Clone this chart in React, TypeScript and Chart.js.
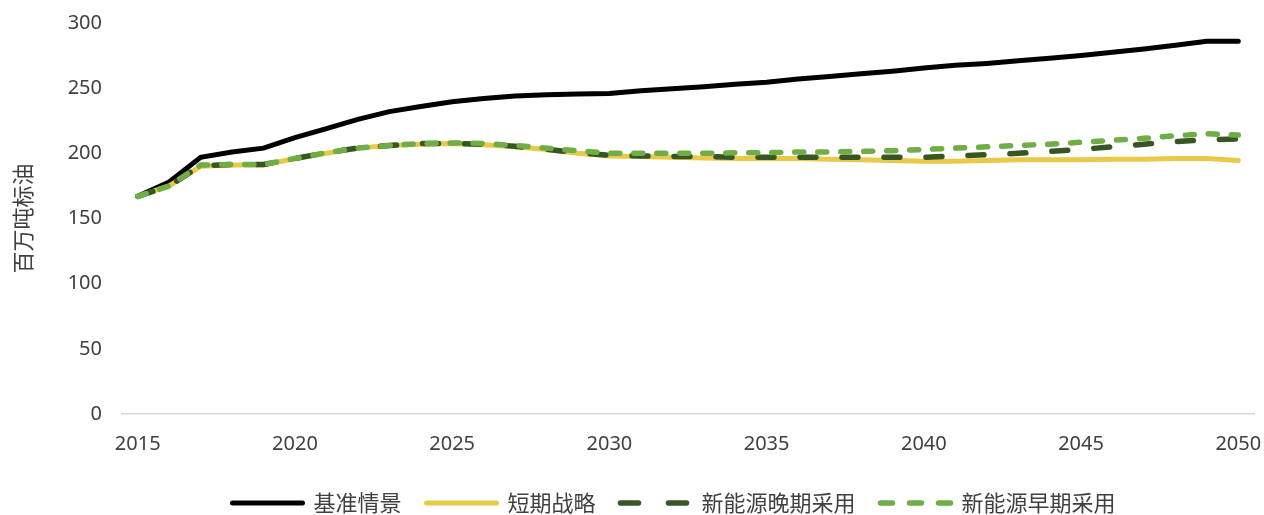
import React, { useEffect, useRef } from "react";
import { Chart, registerables } from "chart.js";

Chart.register(...registerables);

const years: string[] = [
  "2015","2016","2017","2018","2019","2020","2021","2022","2023","2024",
  "2025","2026","2027","2028","2029","2030","2031","2032","2033","2034",
  "2035","2036","2037","2038","2039","2040","2041","2042","2043","2044",
  "2045","2046","2047","2048","2049","2050",
];

const seriesNames: string[] = ["基准情景", "短期战略", "新能源晚期采用", "新能源早期采用"];

const baseline: number[] = [
  167, 178, 197, 201, 204, 212, 219, 226, 232, 236,
  239.5, 242, 244, 245, 245.5, 246, 248, 249.5, 251, 253,
  254.5, 257, 259, 261, 263, 265.5, 267.5, 269, 271, 273,
  275, 277.5, 280, 283, 286, 286,
];

const shortTerm: number[] = [
  167, 175, 190, 191, 191, 196, 200, 204, 206, 207,
  207.5, 206.5, 205, 203, 200, 198, 197.5, 197, 196.5, 196,
  196, 196, 195.5, 195, 194.5, 194, 194, 194.5, 195, 195,
  195, 195.5, 195.5, 196, 196, 194.5,
];

const lateAdoption: number[] = [
  167, 175, 190.5, 191.5, 191.5, 196, 200.5, 204, 206, 207.5,
  207.5, 207, 205.5, 203, 200.5, 198.5, 198, 197.5, 197.5, 197,
  197, 197, 197, 197, 197, 197, 198, 199, 200, 201.5,
  203, 205, 207, 209, 210.5, 211,
];

const earlyAdoption: number[] = [
  167, 175, 191, 191.5, 191.5, 196, 200.5, 204, 206, 207.5,
  208, 207.5, 206, 204, 202, 200, 200, 200, 200, 200.5,
  200.5, 201, 201, 201.5, 202, 203, 204, 205, 206, 207,
  208.5, 210, 211.5, 213.5, 215, 214,
];

const yTicks: number[] = [0, 50, 100, 150, 200, 250, 300];
const xLabelYears: string[] = ["2015", "2020", "2025", "2030", "2035", "2040", "2045", "2050"];

const yTitle = "百万吨标油";

const legendDashes: number[][] = [[], [], [18, 30], [12, 17]];

const legendHeightFix = {
  id: "legendHeightFix",
  afterInit(chart: any) {
    const legend = chart.legend;
    if (!legend) return;
    const origFit = legend.fit.bind(legend);
    legend.fit = function () {
      origFit();
      this.height = 48;
    };
  },
  afterLayout(chart: any) {
    const legend = chart.legend;
    if (!legend) return;
    legend.left += 47;
    legend.right += 47;
  },
};

export default function App() {
  const canvasRef = useRef<HTMLCanvasElement | null>(null);

  useEffect(() => {
    if (!canvasRef.current) return;
    const textColor = "#404040";
    const chart = new Chart(canvasRef.current, {
      type: "line",
      data: {
        labels: years,
        datasets: [
          {
            label: seriesNames[0],
            data: baseline,
            borderColor: "#000000",
            backgroundColor: "#000000",
            borderWidth: 5,
            borderCapStyle: "round",
            pointRadius: 0,
            tension: 0,
            order: 4,
          },
          {
            label: seriesNames[1],
            data: shortTerm,
            borderColor: "#E8C948",
            backgroundColor: "#E8C948",
            borderWidth: 5,
            borderCapStyle: "round",
            pointRadius: 0,
            tension: 0,
            order: 3,
          },
          {
            label: seriesNames[2],
            data: lateAdoption,
            borderColor: "#375623",
            backgroundColor: "#375623",
            borderWidth: 5.5,
            borderCapStyle: "round",
            borderDash: [16, 26],
            pointRadius: 0,
            tension: 0,
            order: 2,
          },
          {
            label: seriesNames[3],
            data: earlyAdoption,
            borderColor: "#70AD47",
            backgroundColor: "#70AD47",
            borderWidth: 5.5,
            borderCapStyle: "round",
            borderDash: [9, 14],
            pointRadius: 0,
            tension: 0,
            order: 1,
          },
        ] as any,
      },
      plugins: [legendHeightFix],
      options: {
        animation: false,
        responsive: true,
        maintainAspectRatio: false,
        layout: { padding: { left: 0, right: 10, top: 23, bottom: 0 } },
        plugins: {
          tooltip: { enabled: false },
          legend: {
            position: "bottom",
            labels: {
              usePointStyle: true,
              pointStyle: "line",
              pointStyleWidth: 70,
              color: textColor,
              padding: 25,
              font: { size: 22, family: "'Noto Sans CJK SC', 'Noto Sans', sans-serif" },
              sort: (a: any, b: any) => a.datasetIndex - b.datasetIndex,
              generateLabels: (ch: any) => {
                const items = (Chart.defaults.plugins.legend.labels as any).generateLabels(ch);
                return items.map((it: any) => {
                  const ds: any = ch.data.datasets[it.datasetIndex];
                  return {
                    ...it,
                    pointStyle: "line",
                    lineDash: legendDashes[it.datasetIndex] || [],
                    lineWidth: ds.borderWidth,
                    strokeStyle: ds.borderColor,
                    fillStyle: ds.borderColor,
                    lineCap: "round",
                  };
                });
              },
            },
          },
        },
        scales: {
          x: {
            type: "category",
            offset: true,
            grid: { display: false, drawTicks: false },
            border: { display: true, color: "#D9D9D9", width: 1.5 },
            afterFit: (scale: any) => {
              scale.height = 53;
              scale.paddingLeft = 0;
              scale.paddingRight = 0;
            },
            ticks: {
              autoSkip: false,
              maxRotation: 0,
              padding: 18,
              color: textColor,
              font: { size: 20, family: "'Noto Sans', sans-serif" },
              callback: function (_v: any, i: number) {
                const y = years[i];
                return xLabelYears.includes(y) ? y : "";
              },
            },
          },
          y: {
            min: 0,
            max: 300,
            afterFit: (scale: any) => {
              scale.width = 122;
              scale.paddingTop = 0;
              scale.paddingBottom = 0;
            },
            afterBuildTicks: (scale: any) => {
              scale.ticks = yTicks.map((v) => ({ value: v }));
            },
            grid: { display: false, drawTicks: false },
            border: { display: false },
            title: {
              display: true,
              text: yTitle,
              color: textColor,
              padding: { top: 9, bottom: 0 },
              font: { size: 22, family: "'Noto Sans CJK SC', sans-serif" },
            },
            ticks: {
              padding: 20,
              color: textColor,
              font: { size: 20, family: "'Noto Sans', sans-serif" },
            },
          },
        },
      },
    });
    return () => chart.destroy();
  }, []);

  return (
    <div style={{ position: "absolute", left: 0, top: 0, width: 1264, height: 515 }}>
      <canvas ref={canvasRef} />
    </div>
  );
}
